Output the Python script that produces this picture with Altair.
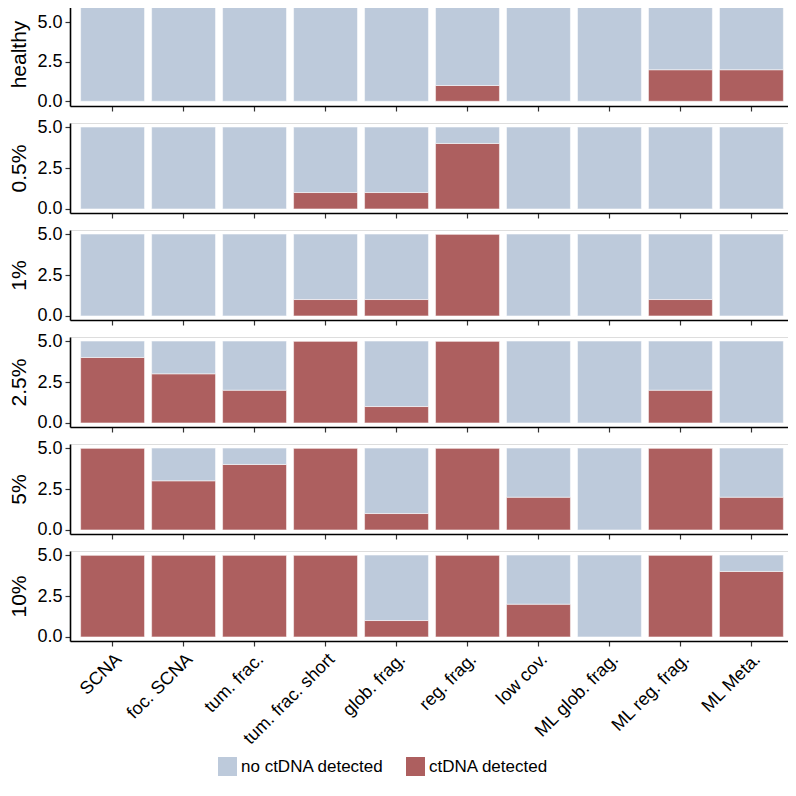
import altair as alt
import pandas as pd

categories = ["SCNA", "foc. SCNA", "tum. frac.", "tum. frac. short", "glob. frag.",
              "reg. frag.", "low cov.", "ML glob. frag.", "ML reg. frag.", "ML Meta."]
rows = ["healthy", "0.5%", "1%", "2.5%", "5%", "10%"]
totals = [6, 5, 5, 5, 5, 5]
detected = {
    "healthy": [0, 0, 0, 0, 0, 1, 0, 0, 2, 2],
    "0.5%":    [0, 0, 0, 1, 1, 4, 0, 0, 0, 0],
    "1%":      [0, 0, 0, 1, 1, 5, 0, 0, 1, 0],
    "2.5%":    [4, 3, 2, 5, 1, 5, 0, 0, 2, 0],
    "5%":      [5, 3, 4, 5, 1, 5, 2, 0, 5, 2],
    "10%":     [5, 5, 5, 5, 1, 5, 2, 0, 5, 4],
}
status_labels = ["no ctDNA detected", "ctDNA detected"]
colors = ["#BDCADB", "#AD5F5F"]

records = []
for r, tot in zip(rows, totals):
    for c, d in zip(categories, detected[r]):
        records.append({"row": r, "category": c, "status": "ctDNA detected", "count": d, "ord": 0})
        records.append({"row": r, "category": c, "status": "no ctDNA detected", "count": tot - d, "ord": 1})
df = pd.DataFrame(records)

W = 724
legend = alt.Legend(title=None, orient="none", legendX=148, legendY=755,
                    direction="horizontal",
                    symbolType="square", symbolSize=360, symbolStrokeWidth=0,
                    labelFontSize=17, labelColor="black", columnPadding=22)
panels = []
for i, (r, tot) in enumerate(zip(rows, totals)):
    last = i == len(rows) - 1
    if tot == 6:
        dom = [-0.3, 6.3]
        h = 104
    else:
        dom = [-0.25, 5.25]
        h = 90
    xaxis = alt.Axis(title=None, labels=last, labelAngle=-45, labelFontSize=18,
                     labelColor="black", labelAlign="right", labelBaseline="top",
                     labelPadding=4, tickSize=5, tickColor="#333333", tickWidth=1.2,
                     domainColor="black", domainWidth=1.6)
    yaxis = alt.Axis(title=r, values=[0, 2.5, 5], format=".1f", labelFontSize=18,
                     labelColor="black", tickSize=5, tickColor="#333333", tickWidth=1.2,
                     domainColor="black", domainWidth=1.6, titleFontSize=21,
                     titleFontWeight="normal", titleColor="black", titlePadding=7,
                     labelPadding=3)
    ch = alt.Chart(df[df["row"] == r]).mark_bar(stroke="white", strokeWidth=0.5).encode(
        x=alt.X("category:N", sort=categories,
                scale=alt.Scale(paddingInner=0.1, paddingOuter=0.15), axis=xaxis),
        y=alt.Y("sum(count):Q", stack="zero",
                scale=alt.Scale(domain=dom, nice=False, zero=False), axis=yaxis),
        color=alt.Color("status:N", scale=alt.Scale(domain=status_labels, range=colors),
                        legend=legend),
        order=alt.Order("ord:Q"),
    ).properties(width=W, height=h)
    panels.append(ch)

chart = alt.vconcat(*panels, spacing=17, bounds="flush").configure_view(stroke=None).configure(
    font="Liberation Sans"
).configure_axis(grid=False).properties(padding={"left": 0, "top": -7, "right": -7, "bottom": 0})

chart.save("out.html", embed_options={"renderer": "svg", "actions": False})
